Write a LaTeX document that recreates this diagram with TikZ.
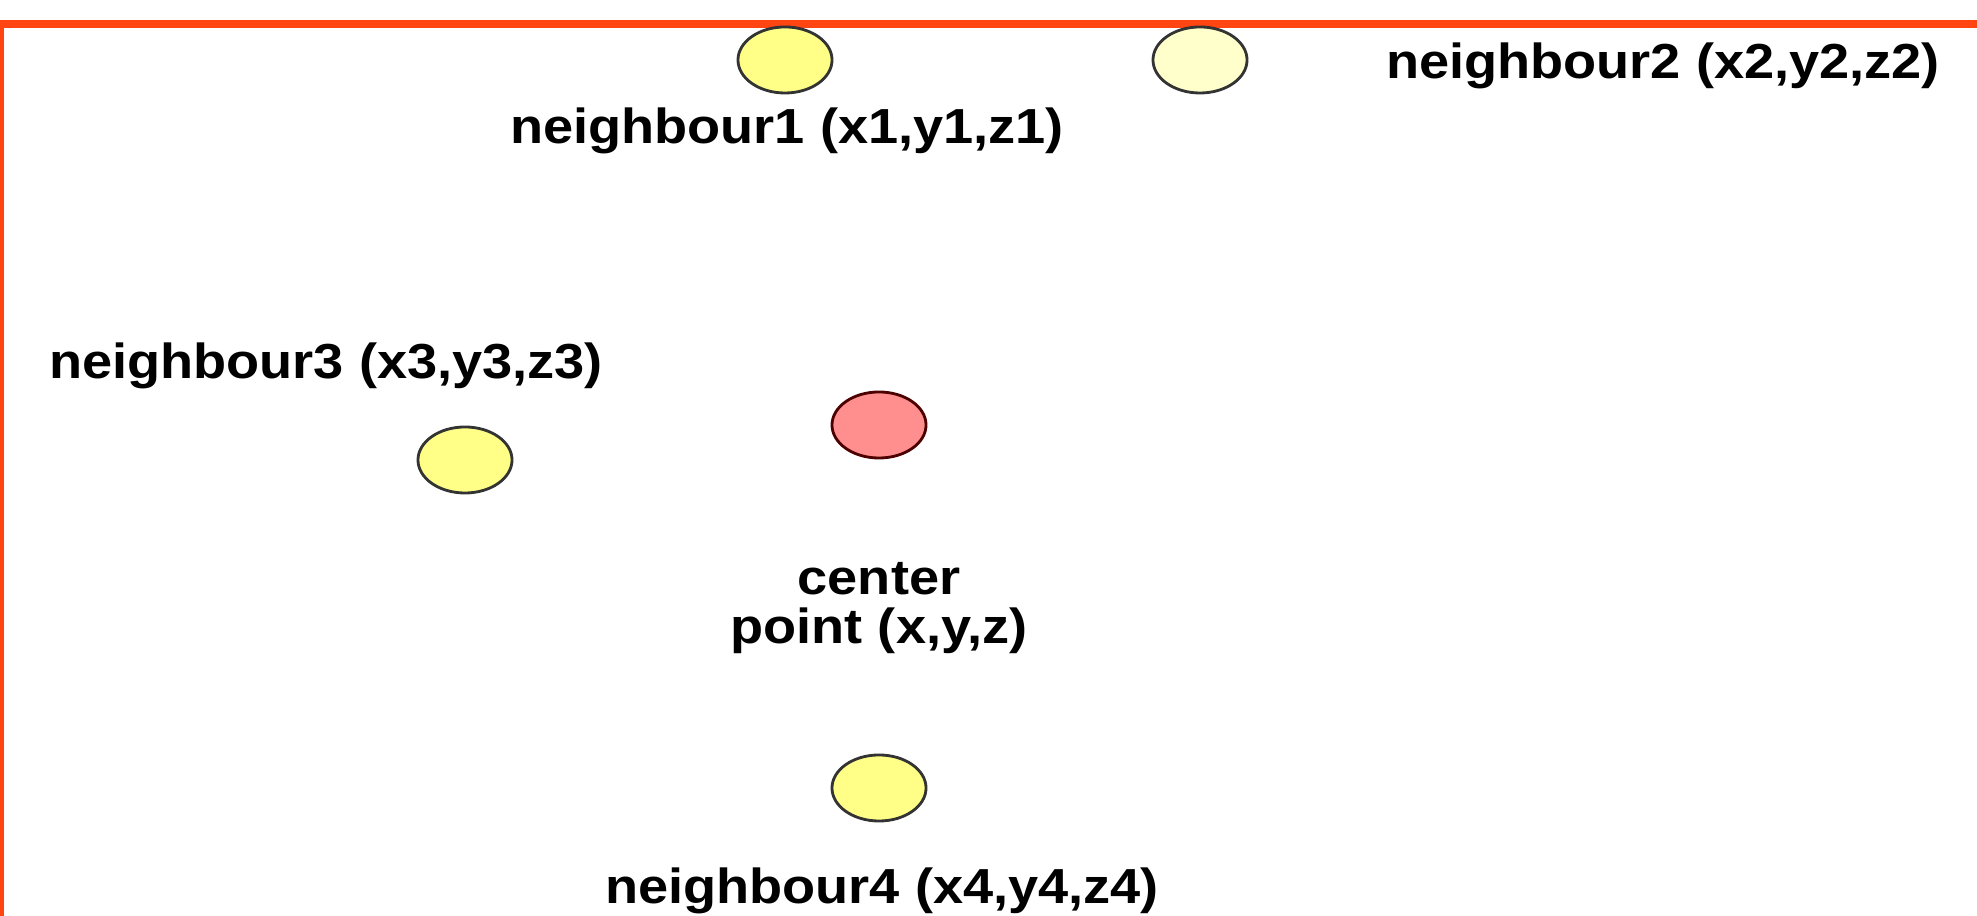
\documentclass[tikz,border=0pt]{standalone}
\usepackage{fontspec}
\setmainfont{Liberation Sans}[FakeStretch=1.1]
\usepackage{xcolor}
\usepackage{tikz}
\usetikzlibrary{positioning, shapes.geometric}

\definecolor{frameorange}{HTML}{FF4511}
\definecolor{pointyellow}{HTML}{FFFF88}
\definecolor{paleyellow}{HTML}{FFFFCC}
\definecolor{pointred}{HTML}{FF8E8E}

\begin{document}
\begin{tikzpicture}[
				x=0.01cm, y=0.01cm,
				point/.style={draw=black!80, line width=0.8pt, ellipse, minimum width=0.94cm, minimum height=0.66cm, inner sep=0pt},
				label/.style={font=\fontsize{14}{14}\selectfont\bfseries, inner sep=0pt, align=center}
				]
				\useasboundingbox (0,0) rectangle (1977,916);
				\fill[white] (0,0) rectangle (1977,916);
				\draw[frameorange, line width=0.08cm] (0,-20) -- (0,892) -- (2000,892);
				
				\node (n1) at (785,856) [point, fill=pointyellow] {};
				\node (n2) at (1200,856) [point, fill=paleyellow] {};
				\node (n3) at (465,456) [point, fill=pointyellow] {};
				\node (c) at (879,491) [point, fill=pointred, draw=black!70!red] {};
				\node (n4) at (879,128) [point, fill=pointyellow] {};
				
				\node (n1label) at (787,785) [label] {neighbour1 (x1,y1,z1)};
				\node (n2label) at (1663,850) [label] {neighbour2 (x2,y2,z2)};
				\node (n3label) at (326,550) [label] {neighbour3 (x3,y3,z3)};
				\node (clabel) at (879,308) [label] {center\\ point (x,y,z)};
				\node (n4label) at (882,25) [label] {neighbour4 (x4,y4,z4)};
			\end{tikzpicture}
\end{document}
